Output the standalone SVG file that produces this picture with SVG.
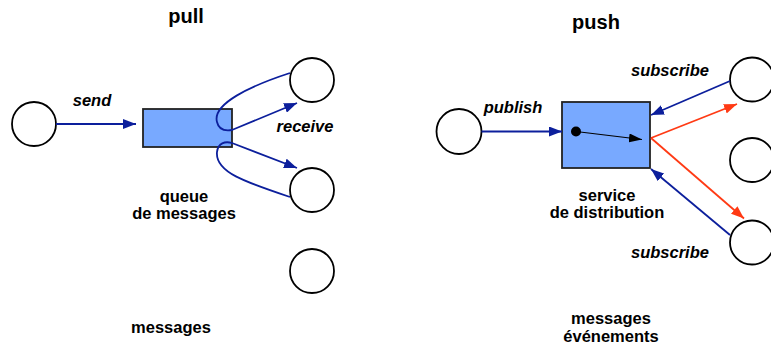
<svg xmlns="http://www.w3.org/2000/svg" width="771" height="344" viewBox="0 0 771 344">
<style>
text{font-family:"Liberation Sans",Arial,sans-serif;font-weight:bold;fill:#000;text-anchor:middle}
.t{font-size:20px}
.l{font-size:16.5px}
.i{font-size:16.5px;font-style:italic}
.node{fill:#fff;stroke:#000;stroke-width:1.8}
.box{fill:#78a9ff;stroke:#222;stroke-width:1.8}
.b{fill:none;stroke:#0c1f9c;stroke-width:1.8}
.r{fill:none;stroke:#ff3a14;stroke-width:1.8}
.k{fill:none;stroke:#000;stroke-width:1.2}
</style>
<defs>
<marker id="ab" markerUnits="userSpaceOnUse" markerWidth="13" markerHeight="10" refX="13" refY="5" orient="auto"><path d="M0,0 L13,5 L0,10 z" fill="#0c1f9c"/></marker>
<marker id="ar" markerUnits="userSpaceOnUse" markerWidth="13" markerHeight="10" refX="13" refY="5" orient="auto"><path d="M0,0 L13,5 L0,10 z" fill="#ff3a14"/></marker>
<marker id="ak" markerUnits="userSpaceOnUse" markerWidth="13" markerHeight="9" refX="13" refY="4.5" orient="auto"><path d="M0,0 L13,4.5 L0,9 z" fill="#000"/></marker>
</defs>
<g id="titles">
<text class="t" x="186" y="23">pull</text>
<text class="t" x="596" y="29">push</text>
</g>
<g id="sender"><circle class="node" cx="34" cy="124" r="22"/></g>
<g id="queue"><rect class="box" x="143" y="109" width="89" height="38"/>
<text class="l" x="184" y="202">queue</text>
<text class="l" x="184" y="219">de messages</text></g>
<g id="recv1"><circle class="node" cx="312" cy="80" r="22"/></g>
<g id="recv2"><circle class="node" cx="312" cy="190" r="22"/></g>
<g id="recv3"><circle class="node" cx="312" cy="271" r="22"/></g>
<g id="publisher"><circle class="node" cx="459" cy="131.5" r="22.5"/></g>
<g id="service"><rect class="box" x="562" y="102" width="88" height="66"/>
<circle cx="576" cy="131.5" r="5" fill="#000"/>
<path class="k" d="M576,131.5 L642,139.5" marker-end="url(#ak)"/>
<text class="l" x="607" y="201">service</text>
<text class="l" x="607" y="218">de distribution</text></g>
<g id="sub1"><circle class="node" cx="752" cy="79.5" r="22"/></g>
<g id="sub2"><circle class="node" cx="752" cy="160" r="22"/></g>
<g id="sub3"><circle class="node" cx="752" cy="242.5" r="22"/></g>
<g id="connectors">
<path class="b" d="M56,124 L136,124" marker-end="url(#ab)"/>
<path class="b" d="M290,73 C250,86 212,104 217,122 C219,131 226,131 232,130 L297,103" marker-end="url(#ab)"/>
<path class="b" d="M290,197 C245,182 215,172 217,152 C218,143 225,141 232,143 L297,168" marker-end="url(#ab)"/>
<path class="b" d="M481.5,131.5 L562,131.5" marker-end="url(#ab)"/>
<path class="b" d="M730,81 L651,115" marker-end="url(#ab)"/>
<path class="b" d="M730,235 L651,169" marker-end="url(#ab)"/>
<path class="r" d="M651,138 L737,104" marker-end="url(#ar)"/>
<path class="r" d="M651,138 L744,218.5" marker-end="url(#ar)"/>
</g>
<g id="labels">
<text class="i" x="92" y="106">send</text>
<text class="i" x="305" y="132">receive</text>
<text class="i" x="513" y="113">publish</text>
<text class="i" x="670" y="76">subscribe</text>
<text class="i" x="670" y="258">subscribe</text>
<text class="l" x="171" y="333">messages</text>
<text class="l" x="611" y="324">messages</text>
<text class="l" x="611" y="342">événements</text>
</g>
</svg>
